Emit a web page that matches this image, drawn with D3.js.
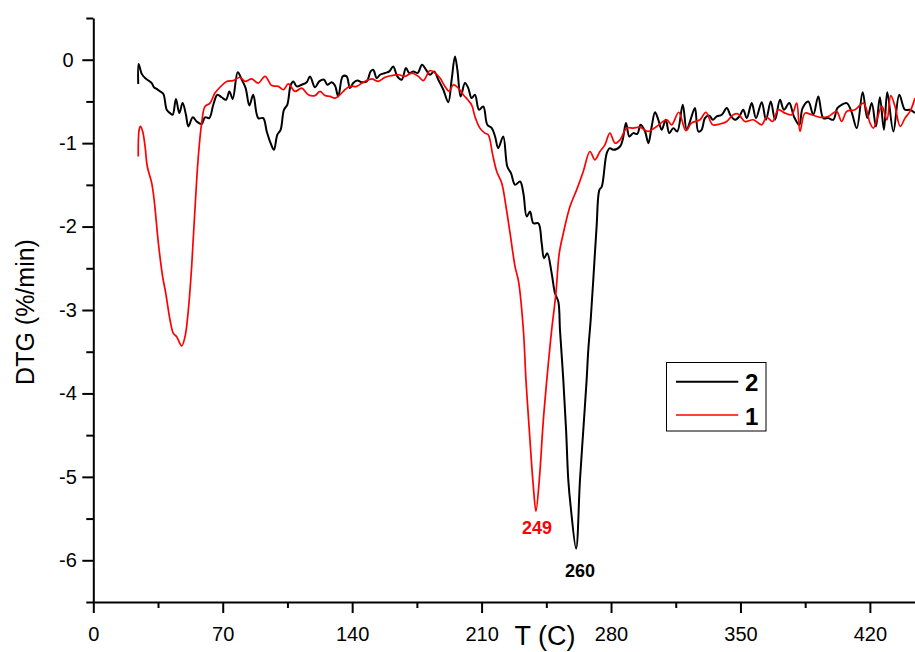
<!DOCTYPE html>
<html>
<head>
<meta charset="utf-8">
<script src="https://cdn.jsdelivr.net/npm/d3@7"></script>
<style>
  html, body { margin: 0; padding: 0; background: #fff; }
  svg { display: block; font-family: "Liberation Sans", Arial, sans-serif; }
</style>
</head>
<body>
<svg id="chart" width="915" height="652"></svg>
<script>
// ---------- DATA ----------
// Sample "2" (black)
const tempS2 = [24.3,24.5,26.2,28,29.8,31.6,32.8,34.3,36.1,37.9,39.7,41.5,42.9,44.7,46.5,48.3,50.1,51.4,53.8,55.9,58.6,60.4,62.7,64.9,67.1,69.4,71.8,73.6,75.4,78.1,80.3,82.4,84.4,86.5,89.2,91.9,93.8,95.9,97.7,99.5,101.3,103.1,104.9,106.8,108.2,110,112.7,115.4,117.2,119.9,122.2,124.8,126.6,128.9,130.7,132.5,134.9,137,138.8,140.6,142.8,145.2,147.9,150,151.4,153.3,155.1,157.8,160.1,162.2,164.4,166.8,169.1,170.9,173.1,175.4,177.8,179.9,182.1,184.3,186.6,189.3,192,193.8,195.6,196.9,198.7,201,202.8,204.6,206.4,208.6,210.9,213.1,215.5,217.3,219,221.7,223.9,225.9,228.1,230.8,232.6,234.4,236.2,238,240.7,242.5,243.8,245.5,247.9,249.7,251.5,252.4,254.2,255.7,256.9,258.2,261.1,263.2,265,266.8,267.7,269,270.4,272.2,273.7,275,277.7,279.4,281.2,284.9,286.3,288.1,289.9,292,294.2,296,298.4,300.2,302,303.8,305.6,307.4,309.6,311.5,313.7,315.8,318.8,320.9,323,325.4,327.2,329,330.8,333.2,335,337.2,339.9,342.6,344.7,347.1,349.4,351.5,353.4,356.1,358.4,361.5,363.8,366.4,368.7,371.4,373.5,376.4,378.9,381.8,383.6,386.7,389.4,392.1,394.8,397.5,400.2,402.4,404.7,407.5,410,412.9,416.1,418.6,421,423.3,425.4,427.6,429.4,432.7,435.9,439,441.7,444.4];
const dtgS2  = [-0.29,-0.05,-0.17,-0.22,-0.25,-0.28,-0.33,-0.35,-0.38,-0.41,-0.60,-0.64,-0.66,-0.47,-0.64,-0.52,-0.66,-0.80,-0.69,-0.74,-0.77,-0.69,-0.70,-0.54,-0.42,-0.45,-0.48,-0.38,-0.47,-0.15,-0.24,-0.34,-0.55,-0.42,-0.70,-0.70,-0.86,-1.00,-1.08,-0.90,-0.84,-0.60,-0.54,-0.30,-0.26,-0.32,-0.30,-0.27,-0.20,-0.33,-0.26,-0.24,-0.30,-0.27,-0.31,-0.44,-0.20,-0.20,-0.34,-0.28,-0.25,-0.27,-0.26,-0.14,-0.12,-0.22,-0.18,-0.16,-0.14,-0.08,-0.20,-0.24,-0.10,-0.16,-0.14,-0.16,-0.06,-0.12,-0.18,-0.14,-0.24,-0.36,-0.51,-0.24,0.04,-0.12,-0.44,-0.28,-0.34,-0.46,-0.42,-0.60,-0.56,-0.78,-0.82,-0.92,-1.06,-0.92,-1.28,-1.36,-1.50,-1.46,-1.60,-1.88,-1.82,-1.96,-1.96,-2.20,-2.38,-2.32,-2.56,-2.80,-2.90,-3.24,-3.84,-4.44,-5.04,-5.36,-5.86,-5.04,-4.44,-3.84,-3.48,-3.12,-2.64,-2.00,-1.56,-1.52,-1.12,-1.06,-1.08,-1.04,-0.96,-0.76,-0.92,-0.88,-0.89,-0.78,-0.86,-1.00,-0.80,-0.63,-0.72,-0.84,-0.72,-0.88,-0.82,-0.86,-0.54,-0.84,-0.72,-0.58,-0.86,-0.84,-0.70,-0.67,-0.72,-0.68,-0.66,-0.58,-0.67,-0.72,-0.68,-0.60,-0.70,-0.52,-0.70,-0.51,-0.72,-0.50,-0.72,-0.48,-0.60,-0.52,-0.68,-0.78,-0.58,-0.50,-0.66,-0.44,-0.70,-0.70,-0.72,-0.58,-0.54,-0.52,-0.62,-0.82,-0.39,-0.70,-0.52,-0.80,-0.45,-0.84,-0.39,-0.86,-0.42,-0.60,-0.60,-0.64];

// Sample "1" (red)
const tempS1 = [24.3,24.8,25.5,26.7,28,29.2,31.6,33.0,35.2,37.5,39.2,41.5,43.3,45.1,47.8,49.6,51.4,53.2,54.8,56.8,58.6,60.4,63.1,65.8,68.5,72.1,75.7,79.3,82,85.7,89.2,92.9,96.5,100.1,102.8,105.5,109.1,112.7,116.3,119.9,122.6,125.3,128,130.7,133.4,136.1,138.8,142.4,146,150.6,154.1,157.8,161.4,165,168.6,172.2,175.8,178.5,182.1,184.8,187.5,190.2,192.5,194.7,197.4,200.1,202.5,204.6,206.4,209.1,211.8,213.6,216,218.2,220.9,223.2,225.4,228.1,230,232.6,234,235.8,238,239.4,241.2,243.4,246.1,247.9,250.2,252,254.2,257.8,261.4,265,268.6,271.3,274,276.7,279.4,282.2,284.9,288.5,292,295.7,300.2,304.7,310.1,312.8,316.6,320.5,323.5,328.1,331.3,335,338.9,342.6,346.1,348.8,352.4,356.9,361.5,364.1,367.4,370.4,374.1,377.7,380.4,382.2,384.9,388.5,393,397.5,402,404.7,407.5,411.9,416.5,420.1,421.9,426.5,429.2,431.3,433.6,436.4,439,441.7,444.4];
const dtgS1  = [-1.16,-0.84,-0.80,-0.86,-1.04,-1.28,-1.48,-1.70,-2.20,-2.60,-2.80,-3.12,-3.28,-3.32,-3.43,-3.32,-3.00,-2.48,-1.86,-1.16,-0.76,-0.56,-0.52,-0.40,-0.33,-0.26,-0.25,-0.21,-0.26,-0.23,-0.28,-0.20,-0.31,-0.32,-0.36,-0.29,-0.38,-0.34,-0.42,-0.43,-0.38,-0.43,-0.44,-0.46,-0.42,-0.36,-0.32,-0.32,-0.27,-0.23,-0.26,-0.21,-0.19,-0.18,-0.20,-0.16,-0.20,-0.25,-0.13,-0.16,-0.22,-0.32,-0.38,-0.30,-0.34,-0.42,-0.48,-0.54,-0.68,-0.82,-0.88,-0.90,-1.14,-1.34,-1.48,-1.76,-2.08,-2.48,-2.66,-3.24,-3.84,-4.44,-5.12,-5.41,-5.04,-4.32,-3.64,-3.24,-2.80,-2.32,-2.08,-1.76,-1.56,-1.34,-1.10,-1.20,-1.10,-1.02,-0.88,-1.00,-0.96,-0.82,-0.82,-0.81,-0.86,-0.80,-0.72,-0.78,-0.63,-0.85,-0.76,-0.72,-0.63,-0.78,-0.77,-0.74,-0.66,-0.65,-0.74,-0.72,-0.78,-0.69,-0.74,-0.60,-0.64,-0.66,-0.52,-0.86,-0.64,-0.66,-0.69,-0.68,-0.62,-0.74,-0.62,-0.60,-0.52,-0.76,-0.82,-0.56,-0.72,-0.43,-0.56,-0.80,-0.70,-0.62,-0.46];

const xMajorTicks = [0, 70, 140, 210, 280, 350, 420];
const xMinorTicks = [35, 105, 175, 245, 315, 385];
const yMajorTicks = [0, -1, -2, -3, -4, -5, -6];
const yMinorTicks = [0.5, -0.5, -1.5, -2.5, -3.5, -4.5, -5.5, -6.5];

const seriesNames = ["2", "1"];
const seriesColors = ["#000000", "#ff0000"];
const peakLabels = [{ text: "249", t: 239.4, v: -5.41, color: "#ff0000" },
                    { text: "260", t: 261.1, v: -5.86, color: "#000000" }];

// ---------- CHART ----------
const svg = d3.select("#chart");
const x = d3.scaleLinear().domain([0, 444.4]).range([93.3, 915]);
const y = d3.scaleLinear().domain([-6.5, 0.5]).range([602, 18]);
const fmt = d => String(d);

svg.append("defs").append("clipPath").attr("id", "clip")
  .append("rect").attr("x", 93).attr("y", 0).attr("width", 822).attr("height", 602);

const line = d3.line()
  .x(d => x(d[0])).y(d => y(d[1]))
  .curve(d3.curveCatmullRom.alpha(0.5));

const s2 = tempS2.map((t, i) => [t, dtgS2[i]]);
const s1 = tempS1.map((t, i) => [t, dtgS1[i]]);

const plot = svg.append("g").attr("clip-path", "url(#clip)");
plot.append("path").datum(s2).attr("d", line)
  .attr("fill", "none").attr("stroke", seriesColors[0]).attr("stroke-width", 2).attr("stroke-linejoin", "round");
plot.append("path").datum(s1).attr("d", line)
  .attr("fill", "none").attr("stroke", seriesColors[1]).attr("stroke-width", 1.7).attr("stroke-linejoin", "round");

// X axis
const xAxis = svg.append("g").attr("transform", "translate(0,602)");
xAxis.call(d3.axisBottom(x).tickValues(xMajorTicks).tickSize(11).tickSizeOuter(0).tickPadding(14).tickFormat(fmt));
xAxis.append("g").call(d3.axisBottom(x).tickValues(xMinorTicks).tickSize(6).tickSizeOuter(0).tickFormat(""))
  .select(".domain").remove();
xAxis.selectAll(".domain").attr("stroke-width", 2);
xAxis.selectAll(".tick line").attr("stroke-width", 2);
xAxis.selectAll(".tick text").attr("font-size", 20).attr("font-family", "Liberation Sans, Arial, sans-serif")
  .attr("fill", "#000");

// Y axis
const yAxis = svg.append("g").attr("transform", "translate(93.3,0)");
yAxis.call(d3.axisLeft(y).tickValues(yMajorTicks).tickSize(11).tickSizeOuter(0).tickFormat(fmt));
yAxis.append("g").call(d3.axisLeft(y).tickValues(yMinorTicks).tickSize(7).tickSizeOuter(0).tickFormat(""))
  .select(".domain").remove();
yAxis.selectAll(".domain").attr("stroke-width", 2);
yAxis.selectAll(".tick line").attr("stroke-width", 2);
yAxis.selectAll(".tick text").attr("font-size", 20).attr("font-family", "Liberation Sans, Arial, sans-serif")
  .attr("fill", "#000").attr("text-anchor", "middle").attr("x", 68 - 93.3);

// Axis titles
svg.append("text").attr("transform", "translate(33.5,312) rotate(-90)")
  .attr("text-anchor", "middle").attr("font-size", 25).text("DTG (%/min)");
svg.append("text").attr("x", 545).attr("y", 645)
  .attr("text-anchor", "middle").attr("font-size", 27).text("T (C)");

// Peak labels
svg.append("text").attr("x", x(peakLabels[0].t) + 1).attr("y", y(peakLabels[0].v) + 23)
  .attr("text-anchor", "middle").attr("font-size", 18).attr("font-weight", "bold")
  .attr("fill", peakLabels[0].color).text(peakLabels[0].text);
svg.append("text").attr("x", x(peakLabels[1].t) + 4).attr("y", y(peakLabels[1].v) + 28)
  .attr("text-anchor", "middle").attr("font-size", 18).attr("font-weight", "bold")
  .attr("fill", peakLabels[1].color).text(peakLabels[1].text);

// Legend
const lg = svg.append("g");
lg.append("rect").attr("x", 666.5).attr("y", 362.5).attr("width", 99.5).attr("height", 68.5)
  .attr("fill", "#fff").attr("stroke", "#000").attr("stroke-width", 1);
const legendRows = [{ name: seriesNames[0], color: seriesColors[0], w: 2, ly: 381.7 },
                    { name: seriesNames[1], color: seriesColors[1], w: 1.7, ly: 415 }];
legendRows.forEach(r => {
  lg.append("line").attr("x1", 676).attr("x2", 738.3).attr("y1", r.ly).attr("y2", r.ly)
    .attr("stroke", r.color).attr("stroke-width", r.w);
  lg.append("text").attr("x", 745).attr("y", r.ly + 9.5)
    .attr("font-size", 24).attr("font-weight", "bold").attr("fill", "#000").text(r.name);
});
</script>
</body>
</html>
